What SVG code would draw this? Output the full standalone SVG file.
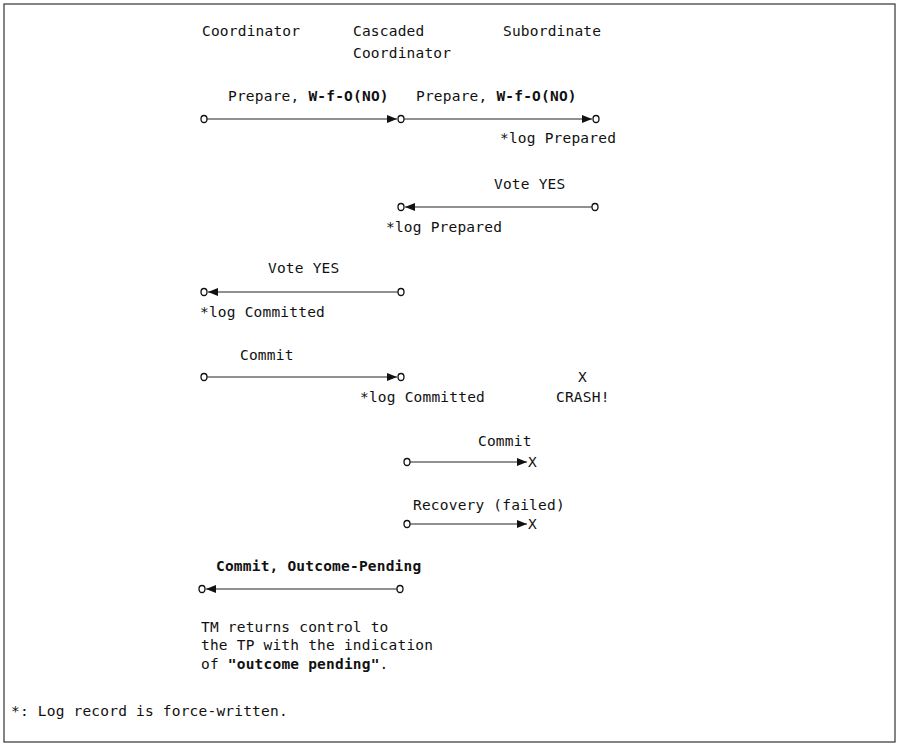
<svg xmlns="http://www.w3.org/2000/svg" width="898" height="744" viewBox="0 0 898 744">
  <defs>
    <style>
      text { font-family: "DejaVu Sans Mono", "Liberation Mono", monospace; font-size: 14.5px; letter-spacing: 0.2px; fill: #111; }
      .b { font-weight: bold; }
      .msg { stroke: #222; stroke-width: 1; fill: none; }
      .end { stroke: #111; stroke-width: 1.3; fill: none; }
      .frame { stroke: #333; stroke-width: 1.2; fill: none; }
    </style>
    <marker id="head" viewBox="0 0 10 8" refX="10" refY="4" markerWidth="10" markerHeight="8" markerUnits="userSpaceOnUse" orient="auto">
      <path d="M0,0 L10,4 L0,8 Z" fill="#111"/>
    </marker>
  </defs>

  <rect class="frame" x="4" y="4" width="891" height="738"/>

  <!-- participants -->
  <g id="coordinator"><text x="202" y="36">Coordinator</text></g>
  <g id="cascaded"><text x="353" y="36">Cascaded</text><text x="353" y="58">Coordinator</text></g>
  <g id="subordinate"><text x="503" y="36">Subordinate</text></g>

  <!-- message labels and log notes -->
  <g id="prepare-1"><text x="228" y="101">Prepare, <tspan class="b">W-f-O(NO)</tspan></text></g>
  <g id="prepare-2"><text x="416" y="101">Prepare, <tspan class="b">W-f-O(NO)</tspan></text>
    <text x="500" y="143">*log Prepared</text></g>
  <g id="vote-1"><text x="494" y="189">Vote YES</text>
    <text x="386" y="232">*log Prepared</text></g>
  <g id="vote-2"><text x="268" y="273">Vote YES</text>
    <text x="200" y="317">*log Committed</text></g>
  <g id="commit-1"><text x="240" y="360">Commit</text>
    <text x="360" y="402">*log Committed</text></g>
  <g id="crash"><text x="578" y="382">X</text><text x="556" y="402">CRASH!</text></g>
  <g id="commit-2"><text x="478" y="446">Commit</text><text x="528" y="467">X</text></g>
  <g id="recovery"><text x="413" y="510">Recovery (failed)</text><text x="528" y="529">X</text></g>
  <g id="outcome-pending"><text class="b" x="216" y="571">Commit, Outcome-Pending</text></g>
  <g id="tm-note">
    <text x="201" y="632">TM returns control to</text>
    <text x="201" y="650">the TP with the indication</text>
    <text x="201" y="669">of <tspan class="b">"outcome pending"</tspan>.</text>
  </g>
  <g id="legend"><text x="11" y="716">*: Log record is force-written.</text></g>

  <!-- message endpoints -->
  <g id="endpoints">
    <ellipse class="end" cx="204" cy="119" rx="3" ry="3.5"/>
    <ellipse class="end" cx="401" cy="119" rx="3" ry="3.5"/>
    <ellipse class="end" cx="596" cy="119" rx="3" ry="3.5"/>
    <ellipse class="end" cx="401" cy="207" rx="3" ry="3.5"/>
    <ellipse class="end" cx="595" cy="207" rx="3" ry="3.5"/>
    <ellipse class="end" cx="204" cy="292" rx="3" ry="3.5"/>
    <ellipse class="end" cx="401" cy="292" rx="3" ry="3.5"/>
    <ellipse class="end" cx="204" cy="377" rx="3" ry="3.5"/>
    <ellipse class="end" cx="401" cy="377" rx="3" ry="3.5"/>
    <ellipse class="end" cx="407" cy="462" rx="3" ry="3.5"/>
    <ellipse class="end" cx="407" cy="524" rx="3" ry="3.5"/>
    <ellipse class="end" cx="202" cy="589" rx="3" ry="3.5"/>
    <ellipse class="end" cx="400" cy="589" rx="3" ry="3.5"/>
  </g>

  <!-- connectors -->
  <g id="connectors">
    <line class="msg" x1="207" y1="119" x2="397" y2="119" marker-end="url(#head)"/>
    <line class="msg" x1="404" y1="119" x2="592" y2="119" marker-end="url(#head)"/>
    <line class="msg" x1="592" y1="207" x2="405" y2="207" marker-end="url(#head)"/>
    <line class="msg" x1="398" y1="292" x2="208" y2="292" marker-end="url(#head)"/>
    <line class="msg" x1="207" y1="377" x2="397" y2="377" marker-end="url(#head)"/>
    <line class="msg" x1="410" y1="462" x2="527" y2="462" marker-end="url(#head)"/>
    <line class="msg" x1="410" y1="524" x2="527" y2="524" marker-end="url(#head)"/>
    <line class="msg" x1="397" y1="589" x2="206" y2="589" marker-end="url(#head)"/>
  </g>
</svg>
